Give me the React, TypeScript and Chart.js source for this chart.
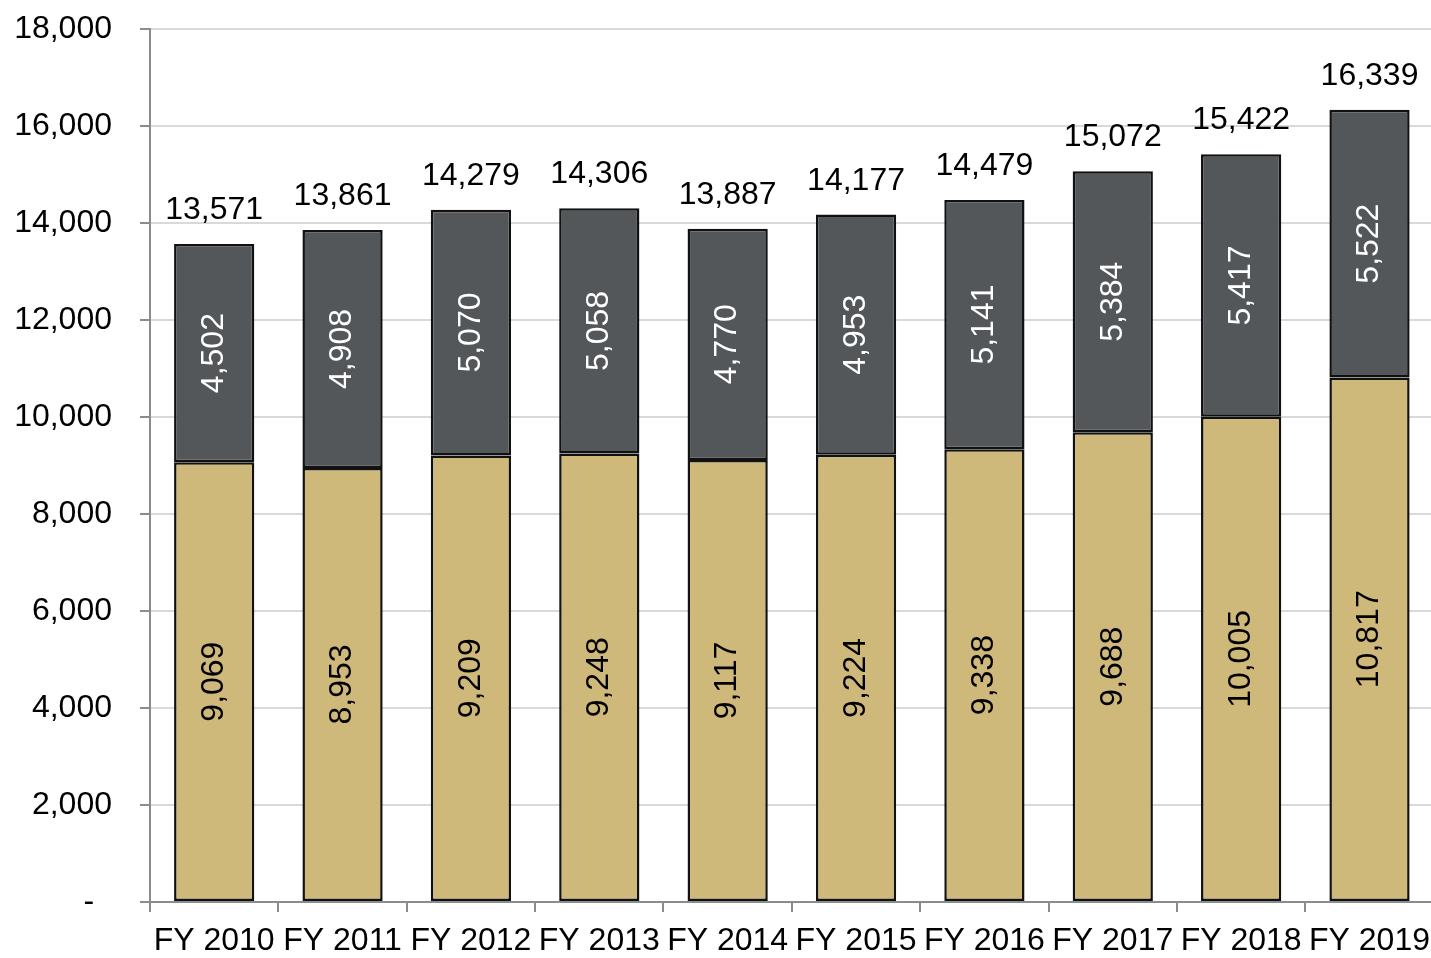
import React, { useEffect, useRef } from "react";
import { Chart, registerables } from "chart.js";

Chart.register(...registerables);

const categories = ["FY 2010", "FY 2011", "FY 2012", "FY 2013", "FY 2014", "FY 2015", "FY 2016", "FY 2017", "FY 2018", "FY 2019"];
const bottomValues = [9069, 8953, 9209, 9248, 9117, 9224, 9338, 9688, 10005, 10817];
const topValues = [4502, 4908, 5070, 5058, 4770, 4953, 5141, 5384, 5417, 5522];
const totals = [13571, 13861, 14279, 14306, 13887, 14177, 14479, 15072, 15422, 16339];
const yTicks = [0, 2000, 4000, 6000, 8000, 10000, 12000, 14000, 16000, 18000];

const FONT = '"Liberation Sans", Arial, Helvetica, sans-serif';
const FS = 32;
const fmt = (v: number) => v.toLocaleString("en-US");

const labelPlugin = {
  id: "barLabels",
  afterDatasetsDraw(chart: any) {
    const ctx = chart.ctx;
    ctx.save();
    ctx.font = `${FS}px ${FONT}`;
    chart.data.datasets.forEach((ds: any, di: number) => {
      const meta = chart.getDatasetMeta(di);
      meta.data.forEach((bar: any, j: number) => {
        const { x, y, base } = bar.getProps(["x", "y", "base"], true);
        const cy = (y + base) / 2;
        ctx.save();
        ctx.translate(x, cy);
        ctx.rotate(-Math.PI / 2);
        ctx.textAlign = "center";
        ctx.textBaseline = "middle";
        ctx.fillStyle = di === 0 ? "#000000" : "#ffffff";
        ctx.fillText(fmt(ds.data[j]), 0, 0);
        ctx.restore();
      });
    });
    const topMeta = chart.getDatasetMeta(chart.data.datasets.length - 1);
    topMeta.data.forEach((bar: any, j: number) => {
      const { x, y } = bar.getProps(["x", "y"], true);
      ctx.textAlign = "center";
      ctx.textBaseline = "alphabetic";
      ctx.fillStyle = "#000000";
      ctx.fillText(fmt(totals[j]), x, y - 25);
    });
    ctx.restore();
  },
};

export default function App() {
  const ref = useRef<HTMLCanvasElement | null>(null);

  useEffect(() => {
    if (!ref.current) return;
    const chart = new Chart(ref.current, {
      type: "bar",
      data: {
        labels: categories,
        datasets: [
          {
            label: "Bottom",
            data: bottomValues,
            backgroundColor: "#CEB87A",
            borderColor: "#111111",
            borderWidth: 2.5,
            borderSkipped: false,
            categoryPercentage: 1,
            barPercentage: 0.625,
          },
          {
            label: "Top",
            data: topValues,
            backgroundColor: "#54575A",
            borderColor: "#111111",
            borderWidth: 2.5,
            borderSkipped: false,
            categoryPercentage: 1,
            barPercentage: 0.625,
          },
        ],
      },
      options: {
        responsive: false,
        animation: false,
        layout: { padding: { top: 10, left: 0, right: 0, bottom: 0 } },
        plugins: {
          legend: { display: false },
          tooltip: { enabled: false },
        },
        scales: {
          x: {
            stacked: true,
            offset: true,
            grid: {
              display: true,
              offset: true,
              drawOnChartArea: false,
              drawTicks: true,
              tickLength: 10,
              color: "#8c8c8c",
              lineWidth: 2,
            },
            border: { display: true, color: "#8c8c8c", width: 2 },
            ticks: {
              color: "#000000",
              font: { family: FONT, size: FS },
              padding: 10,
              maxRotation: 0,
              autoSkip: false,
            },
            afterFit: (scale: any) => {
              scale.height = 56;
            },
          },
          y: {
            stacked: true,
            min: 0,
            max: 18000,
            afterBuildTicks: (scale: any) => {
              scale.ticks = yTicks.map((v) => ({ value: v }));
            },
            grid: {
              color: "#d9d9d9",
              lineWidth: 2,
              drawTicks: true,
              tickLength: 10,
              tickColor: "#8c8c8c",
              tickWidth: 2,
            },
            border: { display: true, color: "#8c8c8c", width: 2 },
            ticks: {
              color: "#000000",
              font: { family: FONT, size: FS },
              padding: 28,
              callback: (v: any) => (Number(v) === 0 ? "-  " : fmt(Number(v))),
            },
            afterFit: (scale: any) => {
              scale.width = 150;
            },
          },
        },
      },
      plugins: [labelPlugin],
    });
    return () => chart.destroy();
  }, []);

  return (
    <div style={{ position: "absolute", left: 0, top: 0, width: 1431, height: 958, overflow: "hidden", background: "#fff" }}>
      <canvas ref={ref} width={1440} height={976} style={{ position: "absolute", left: 0, top: -18 }} />
    </div>
  );
}
